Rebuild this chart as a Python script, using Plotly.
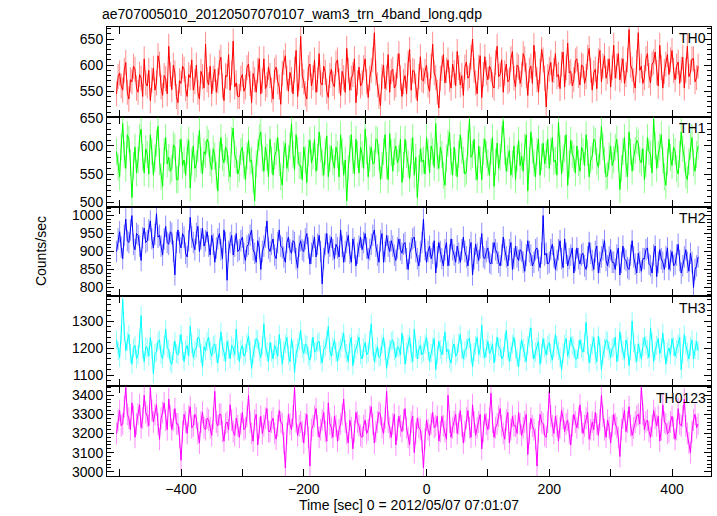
import plotly.graph_objects as go
from plotly.subplots import make_subplots

TITLE = "ae707005010_20120507070107_wam3_trn_4band_long.qdp"
X_TITLE = "Time [sec] 0 = 2012/05/07 07:01:07"
Y_TITLE = "Counts/sec"
T_START = -505
T_STEP = 2.5

TH0 = [545, 578, 585, 560, 552, 590, 605, 548, 535, 572, 568, 598, 592, 556, 548, 582, 575, 540, 612, 566,
       560, 590, 532, 571, 594, 552, 566, 618, 602, 558, 542, 580, 574, 545, 636, 582, 553, 600, 585, 540,
       528, 570, 565, 598, 592, 555, 540, 582, 576, 610, 552, 568, 600, 548, 535, 588, 578, 556, 640, 572,
       562, 598, 545, 575, 592, 548, 570, 605, 615, 560, 532, 580, 578, 620, 552, 585, 646, 558, 566, 540,
       540, 575, 582, 550, 558, 595, 602, 565, 528, 584, 572, 548, 590, 612, 545, 570, 612, 555, 562, 596,
       580, 552, 535, 590, 596, 568, 558, 525, 584, 605, 618, 575, 550, 586, 572, 545, 592, 628, 540, 575,
       655, 580, 568, 545, 535, 595, 602, 560, 576, 610, 548, 572, 622, 566, 562, 598, 586, 550, 538, 580,
       592, 565, 558, 604, 610, 570, 542, 588, 576, 548, 632, 590, 552, 575, 582, 612, 528, 566, 596, 560,
       566, 595, 612, 568, 538, 575, 590, 610, 662, 585, 562, 540, 522, 578, 600, 555, 576, 620, 548, 588,
       592, 556, 562, 598, 622, 575, 540, 568, 580, 545, 604, 630, 552, 590, 588, 560, 532, 578, 616, 572,
       570, 588, 600, 562, 550, 598, 640, 585, 576, 548, 518, 575, 594, 620, 566, 590, 610, 572, 556, 602,
       586, 560, 626, 595, 562, 580, 542, 596, 606, 575, 580, 615, 650, 590, 566, 545, 596, 618, 538, 582,
       616, 585, 572, 598, 592, 562, 556, 605, 636, 578, 582, 610, 548, 585, 602, 568, 572, 612, 626, 575,
       558, 600, 596, 565, 582, 622, 612, 580, 542, 590, 598, 565, 638, 602, 572, 548, 588, 630, 610, 575,
       520, 578, 592, 605, 568, 590, 622, 578, 582, 555, 602, 625, 558, 595, 642, 585, 588, 560, 572, 608,
       612, 580, 562, 600, 598, 565, 578, 615, 632, 590, 552, 585, 592, 555, 608, 628, 568, 598, 618, 575,
       588, 612, 558, 595, 638, 575, 598, 622, 572, 590, 612, 565, 582, 610, 668, 600, 592, 570, 556, 605,
       662, 590, 598, 565, 576, 612, 622, 580, 566, 602, 606, 625, 586, 560, 638, 595, 556, 588, 602, 620,
       582, 610, 628, 590, 572, 598, 606, 565, 592, 615, 556, 590, 636, 578, 586, 612, 612, 568, 576, 598]

TH1 = [590, 562, 545, 598, 640, 585, 560, 620, 612, 570, 508, 565, 598, 552, 575, 615, 630, 580, 552, 595,
       585, 550, 620, 590, 548, 578, 605, 635, 572, 545, 528, 590, 615, 568, 580, 555, 560, 602, 598, 540,
       540, 588, 612, 565, 575, 548, 590, 610, 525, 572, 600, 560, 568, 595, 628, 575, 550, 590, 585, 612,
       605, 570, 558, 595, 582, 548, 520, 585, 615, 580, 570, 598, 592, 560, 545, 610, 632, 585, 575, 550,
       560, 590, 598, 565, 540, 582, 610, 572, 575, 540, 502, 568, 588, 615, 625, 578, 555, 598, 580, 545,
       612, 575, 548, 582, 590, 615, 570, 545, 530, 585, 605, 560, 578, 600, 640, 585, 558, 620, 592, 565,
       565, 540, 598, 575, 535, 588, 610, 570, 582, 612, 555, 580, 625, 595, 570, 548, 590, 618, 545, 578,
       600, 572, 560, 598, 585, 545, 620, 590, 548, 575, 502, 560, 595, 620, 575, 550, 612, 585, 552, 598,
       585, 560, 630, 592, 545, 578, 598, 568, 570, 612, 610, 580, 540, 565, 590, 620, 565, 540, 622, 588,
       555, 590, 600, 570, 578, 612, 535, 565, 612, 585, 568, 542, 590, 615, 548, 580, 508, 560, 595, 572,
       575, 550, 615, 588, 552, 600, 590, 562, 640, 582, 560, 598, 585, 548, 530, 578, 605, 625, 572, 548,
       598, 570, 545, 585, 620, 592, 575, 550, 555, 605, 648, 580, 585, 612, 562, 540, 600, 575, 540, 590,
       612, 585, 570, 548, 590, 615, 528, 572, 605, 560, 580, 612, 645, 590, 555, 578, 592, 548, 568, 600,
       540, 578, 610, 565, 582, 555, 598, 620, 520, 575, 625, 592, 570, 545, 590, 612, 548, 580, 605, 568,
       585, 612, 560, 590, 615, 572, 575, 548, 642, 595, 550, 578, 595, 620, 530, 568, 610, 585, 578, 552,
       600, 570, 555, 598, 590, 565, 620, 588, 545, 575, 582, 612, 608, 572, 562, 590, 635, 598, 575, 545,
       548, 582, 600, 565, 575, 598, 612, 578, 522, 560, 590, 615, 568, 545, 625, 590, 555, 580, 592, 610,
       605, 575, 570, 595, 540, 568, 615, 590, 585, 552, 648, 600, 560, 585, 598, 620, 575, 545, 530, 572,
       612, 580, 565, 598, 590, 560, 550, 585, 625, 595, 578, 548, 540, 572, 600, 615, 570, 555, 585, 600]

TH2 = [900, 935, 955, 912, 880, 945, 990, 930, 925, 960, 1000, 920, 905, 950, 945, 915, 875, 938, 965, 925,
       930, 960, 985, 935, 910, 948, 1005, 940, 945, 915, 890, 935, 970, 925, 920, 955, 950, 900, 835, 925,
       960, 925, 910, 950, 940, 895, 885, 930, 995, 940, 925, 905, 950, 970, 900, 935, 965, 915, 930, 955,
       915, 890, 945, 920, 870, 910, 935, 950, 905, 880, 960, 925, 820, 900, 925, 945, 890, 915, 950, 900,
       905, 930, 940, 895, 875, 915, 920, 945, 960, 905, 895, 870, 930, 910, 850, 900, 915, 940, 985, 910,
       900, 920, 935, 890, 880, 925, 960, 915, 910, 885, 870, 925, 940, 905, 895, 930, 925, 880, 855, 915,
       930, 905, 900, 935, 950, 910, 865, 895, 915, 940, 885, 920, 945, 900, 810, 880, 920, 950, 895, 915,
       940, 905, 880, 920, 910, 885, 960, 915, 870, 900, 925, 945, 895, 870, 935, 910, 860, 895, 915, 940,
       905, 925, 950, 910, 880, 905, 920, 945, 960, 915, 890, 870, 930, 950, 870, 900, 945, 915, 900, 930,
       915, 890, 875, 910, 935, 905, 895, 920, 925, 880, 850, 895, 910, 935, 940, 900, 880, 860, 900, 925,
       990, 905, 870, 900, 915, 880, 895, 930, 840, 885, 925, 900, 880, 860, 905, 925, 860, 890, 935, 905,
       890, 870, 915, 895, 870, 905, 940, 900, 885, 860, 905, 925, 835, 880, 920, 895, 875, 910, 950, 885,
       880, 900, 910, 870, 865, 895, 925, 905, 895, 870, 860, 890, 940, 905, 885, 860, 905, 925, 850, 880,
       915, 885, 875, 905, 900, 870, 845, 890, 930, 900, 890, 860, 870, 905, 910, 875, 855, 895, 1000, 890,
       895, 865, 870, 905, 920, 885, 850, 875, 905, 930, 880, 855, 935, 895, 860, 880, 890, 910, 840, 875,
       910, 880, 865, 890, 895, 860, 850, 885, 925, 895, 875, 850, 900, 915, 840, 870, 885, 905, 930, 875,
       860, 885, 905, 870, 870, 850, 890, 910, 835, 870, 915, 880, 875, 855, 850, 890, 930, 885, 865, 840,
       895, 870, 845, 880, 880, 905, 910, 865, 860, 840, 890, 915, 830, 870, 905, 880, 870, 850, 885, 910,
       850, 875, 900, 860, 865, 890, 920, 875, 840, 860, 885, 905, 870, 845, 895, 870, 800, 850, 860, 885]

TH3 = [1230, 1190, 1165, 1250, 1380, 1260, 1190, 1225, 1250, 1180, 1140, 1200, 1210, 1160, 1175, 1235, 1320, 1195, 1150, 1205,
       1200, 1170, 1240, 1195, 1105, 1180, 1185, 1225, 1230, 1175, 1160, 1210, 1270, 1200, 1195, 1150, 1140, 1190, 1225, 1180,
       1175, 1215, 1250, 1190, 1150, 1195, 1210, 1170, 1280, 1215, 1165, 1190, 1200, 1240, 1235, 1180, 1130, 1205, 1190, 1225,
       1240, 1190, 1170, 1210, 1215, 1180, 1145, 1200, 1260, 1205, 1185, 1150, 1225, 1195, 1160, 1210, 1200, 1175, 1270, 1190,
       1150, 1195, 1210, 1170, 1180, 1220, 1245, 1190, 1125, 1175, 1200, 1235, 1230, 1185, 1165, 1210, 1290, 1205, 1185, 1150,
       1220, 1185, 1160, 1210, 1195, 1170, 1250, 1200, 1140, 1190, 1215, 1240, 1175, 1150, 1235, 1195, 1110, 1180, 1200, 1225,
       1265, 1200, 1180, 1215, 1210, 1170, 1155, 1200, 1240, 1185, 1190, 1220, 1225, 1175, 1145, 1195, 1205, 1230, 1280, 1190,
       1170, 1205, 1230, 1185, 1150, 1190, 1200, 1225, 1255, 1195, 1180, 1150, 1215, 1240, 1135, 1180, 1195, 1215, 1240, 1175,
       1160, 1200, 1220, 1175, 1185, 1230, 1290, 1205, 1150, 1180, 1205, 1165, 1170, 1215, 1240, 1190, 1125, 1170, 1195, 1225,
       1230, 1190, 1165, 1205, 1200, 1175, 1255, 1210, 1140, 1185, 1215, 1240, 1180, 1150, 1270, 1200, 1160, 1195, 1210, 1175,
       1185, 1215, 1240, 1190, 1150, 1180, 1205, 1235, 1120, 1175, 1225, 1195, 1175, 1210, 1260, 1185, 1195, 1160, 1145, 1200,
       1215, 1170, 1180, 1220, 1250, 1195, 1160, 1190, 1200, 1230, 1235, 1180, 1130, 1185, 1210, 1240, 1175, 1200, 1285, 1195,
       1165, 1200, 1225, 1180, 1190, 1215, 1145, 1185, 1240, 1205, 1200, 1160, 1170, 1220, 1265, 1195, 1150, 1185, 1215, 1240,
       1195, 1165, 1130, 1190, 1230, 1200, 1180, 1150, 1210, 1240, 1275, 1195, 1160, 1185, 1205, 1225, 1140, 1180, 1235, 1200,
       1175, 1210, 1220, 1180, 1155, 1200, 1250, 1210, 1190, 1165, 1120, 1180, 1215, 1235, 1170, 1195, 1240, 1210, 1200, 1160,
       1160, 1195, 1230, 1200, 1185, 1220, 1295, 1210, 1145, 1180, 1210, 1240, 1175, 1150, 1245, 1205, 1120, 1175, 1200, 1230,
       1225, 1190, 1165, 1200, 1205, 1240, 1150, 1185, 1260, 1215, 1190, 1160, 1230, 1205, 1135, 1190, 1300, 1220, 1180, 1150,
       1215, 1185, 1160, 1205, 1240, 1210, 1195, 1165, 1275, 1220, 1150, 1190, 1210, 1235, 1180, 1200, 1255, 1195, 1140, 1185,
       1200, 1175, 1235, 1205, 1170, 1195, 1215, 1240, 1120, 1180, 1250, 1210, 1185, 1160, 1205, 1230, 1160, 1195, 1225, 1190]

TH0123 = [3200, 3270, 3320, 3240, 3250, 3340, 3440, 3300, 3280, 3220, 3360, 3290, 3180, 3250, 3300, 3350, 3230, 3280, 3400, 3310,
          3290, 3240, 3440, 3320, 3260, 3300, 3350, 3250, 3170, 3280, 3310, 3360, 3270, 3220, 3380, 3290, 3220, 3270, 3330, 3250,
          3250, 3180, 3060, 3210, 3300, 3260, 3200, 3290, 3340, 3230, 3240, 3300, 3280, 3200, 3150, 3260, 3310, 3230, 3220, 3280,
          3270, 3230, 3190, 3280, 3420, 3260, 3240, 3300, 3300, 3210, 3160, 3250, 3260, 3220, 3350, 3270, 3210, 3190, 3280, 3240,
          3180, 3250, 3310, 3220, 3230, 3290, 3400, 3260, 3200, 3160, 3270, 3300, 3140, 3230, 3290, 3200, 3240, 3280, 3330, 3210,
          3210, 3260, 3280, 3200, 3170, 3240, 3320, 3260, 3250, 3150, 3020, 3200, 3300, 3250, 3220, 3290, 3440, 3260, 3190, 3240,
          3260, 3210, 3150, 3250, 3300, 3180, 3030, 3220, 3240, 3290, 3330, 3240, 3180, 3220, 3270, 3310, 3210, 3160, 3360, 3250,
          3230, 3180, 3290, 3240, 3160, 3220, 3250, 3300, 3380, 3260, 3200, 3150, 3270, 3230, 3120, 3210, 3310, 3260, 3240, 3190,
          3180, 3240, 3270, 3200, 3220, 3290, 3340, 3250, 3150, 3210, 3260, 3310, 3300, 3230, 3200, 3280, 3420, 3260, 3230, 3180,
          3250, 3300, 3140, 3220, 3290, 3240, 3210, 3270, 3330, 3230, 3180, 3140, 3260, 3290, 3100, 3200, 3280, 3230, 3220, 3160,
          3020, 3170, 3270, 3220, 3190, 3250, 3310, 3230, 3240, 3290, 3160, 3210, 3290, 3240, 3210, 3170, 3400, 3260, 3180, 3230,
          3260, 3300, 3200, 3250, 3320, 3240, 3150, 3210, 3280, 3320, 3230, 3180, 3350, 3260, 3190, 3230, 3260, 3300, 3120, 3210,
          3300, 3250, 3220, 3280, 3410, 3260, 3180, 3230, 3250, 3290, 3330, 3240, 3200, 3170, 3270, 3310, 3150, 3220, 3290, 3240,
          3240, 3200, 3310, 3250, 3190, 3230, 3260, 3300, 3090, 3200, 3280, 3240, 3220, 3170, 3030, 3210, 3300, 3260, 3250, 3190,
          3180, 3260, 3420, 3290, 3240, 3200, 3290, 3240, 3160, 3230, 3320, 3280, 3210, 3250, 3270, 3200, 3140, 3240, 3300, 3260,
          3230, 3280, 3350, 3260, 3200, 3240, 3280, 3310, 3170, 3220, 3260, 3220, 3310, 3250, 3190, 3270, 3400, 3290, 3220, 3180,
          3270, 3230, 3150, 3240, 3300, 3250, 3230, 3180, 3080, 3220, 3280, 3320, 3210, 3260, 3340, 3240, 3190, 3230, 3260, 3290,
          3300, 3250, 3440, 3300, 3220, 3260, 3270, 3210, 3180, 3240, 3320, 3280, 3240, 3290, 3160, 3220, 3350, 3260, 3250, 3200,
          3210, 3260, 3290, 3230, 3170, 3220, 3330, 3250, 3240, 3290, 3380, 3240, 3200, 3150, 3100, 3210, 3270, 3300, 3230, 3250]

LABELS = ["TH0", "TH1", "TH2", "TH3", "TH0123"]
SERIES = [TH0, TH1, TH2, TH3, TH0123]
ERRORS = [24, 24, 30, 35, 57]
COLORS = ["#ff0000", "#00ff00", "#0000ff", "#00ffff", "#ff00ff"]
ERR_COLORS = ["rgba(255,0,0,0.45)", "rgba(0,255,0,0.45)", "rgba(0,0,255,0.45)",
              "rgba(0,255,255,0.45)", "rgba(255,0,255,0.45)"]
Y_RANGES = [[501, 673], [492, 652], [775, 1025], [1059, 1391], [2978, 3447]]
Y_DTICK = [50, 50, 50, 100, 100]
Y_MINOR = [10, 10, 10, 20, 20]
X_RANGE = [-520.6, 463.5]
X_TICKS = [-500, -400, -300, -200, -100, 0, 100, 200, 300, 400]
X_TICKTEXT = ["", "\u2212400", "", "\u2212200", "", "0", "", "200", "", "400"]

times = [T_START + i * T_STEP for i in range(len(TH0))]

fig = make_subplots(rows=5, cols=1, shared_xaxes=True, vertical_spacing=0)
FONT = "Liberation Sans, Arial, Helvetica, sans-serif"

for i, (lab, ys) in enumerate(zip(LABELS, SERIES)):
    fig.add_trace(go.Scatter(
        x=times[:len(ys)], y=ys, mode="lines", name=lab,
        line=dict(color=COLORS[i], width=1),
        error_y=dict(type="constant", value=ERRORS[i], width=0, thickness=1,
                     color=ERR_COLORS[i]),
        showlegend=False), row=i + 1, col=1)
    fig.update_yaxes(range=Y_RANGES[i], dtick=Y_DTICK[i], tick0=0,
                     ticks="inside", ticklen=7, tickcolor="black",
                     showline=True, linecolor="black", linewidth=1, mirror="allticks",
                     showgrid=False, zeroline=False,
                     minor=dict(ticks="inside", ticklen=4, dtick=Y_MINOR[i],
                                tickcolor="black", showgrid=False),
                     tickfont=dict(size=14, color="black", family=FONT),
                     row=i + 1, col=1)
    fig.update_xaxes(range=X_RANGE, tickmode="array", tickvals=X_TICKS,
                     ticktext=X_TICKTEXT,
                     ticks="inside", ticklen=7, tickcolor="black",
                     showline=True, linecolor="black", linewidth=1, mirror="allticks",
                     showgrid=False, zeroline=False,
                     showticklabels=(i == 4),
                     tickfont=dict(size=14, color="black", family=FONT),
                     row=i + 1, col=1)
    yref = "y domain" if i == 0 else f"y{i + 1} domain"
    xref = "x domain" if i == 0 else f"x{i + 1} domain"
    fig.add_annotation(text=lab, xref=xref, yref=yref, x=0.995, y=0.985,
                       xanchor="right", yanchor="top", showarrow=False,
                       font=dict(size=14, color="black", family=FONT))

fig.update_xaxes(title=dict(text=X_TITLE, font=dict(size=14, color="black", family=FONT),
                            standoff=4), row=5, col=1)

fig.add_annotation(text=Y_TITLE, xref="paper", yref="paper", x=-0.11, y=0.5,
                   xanchor="center", yanchor="middle", textangle=-90, showarrow=False,
                   font=dict(size=14, color="black", family=FONT))
fig.add_annotation(text=TITLE, xref="paper", yref="paper", x=0, y=1.0, yshift=3,
                   xshift=-7, xanchor="left", yanchor="bottom", showarrow=False,
                   font=dict(size=14, color="black", family=FONT))

fig.update_layout(width=717, height=516, margin=dict(l=107, r=6, t=27, b=40),
                  plot_bgcolor="white", paper_bgcolor="white",
                  font=dict(family=FONT, color="black"))

fig.write_html("out.html", config={"displayModeBar": False},
               post_script="document.body.style.margin='0';document.body.style.padding='0';")
